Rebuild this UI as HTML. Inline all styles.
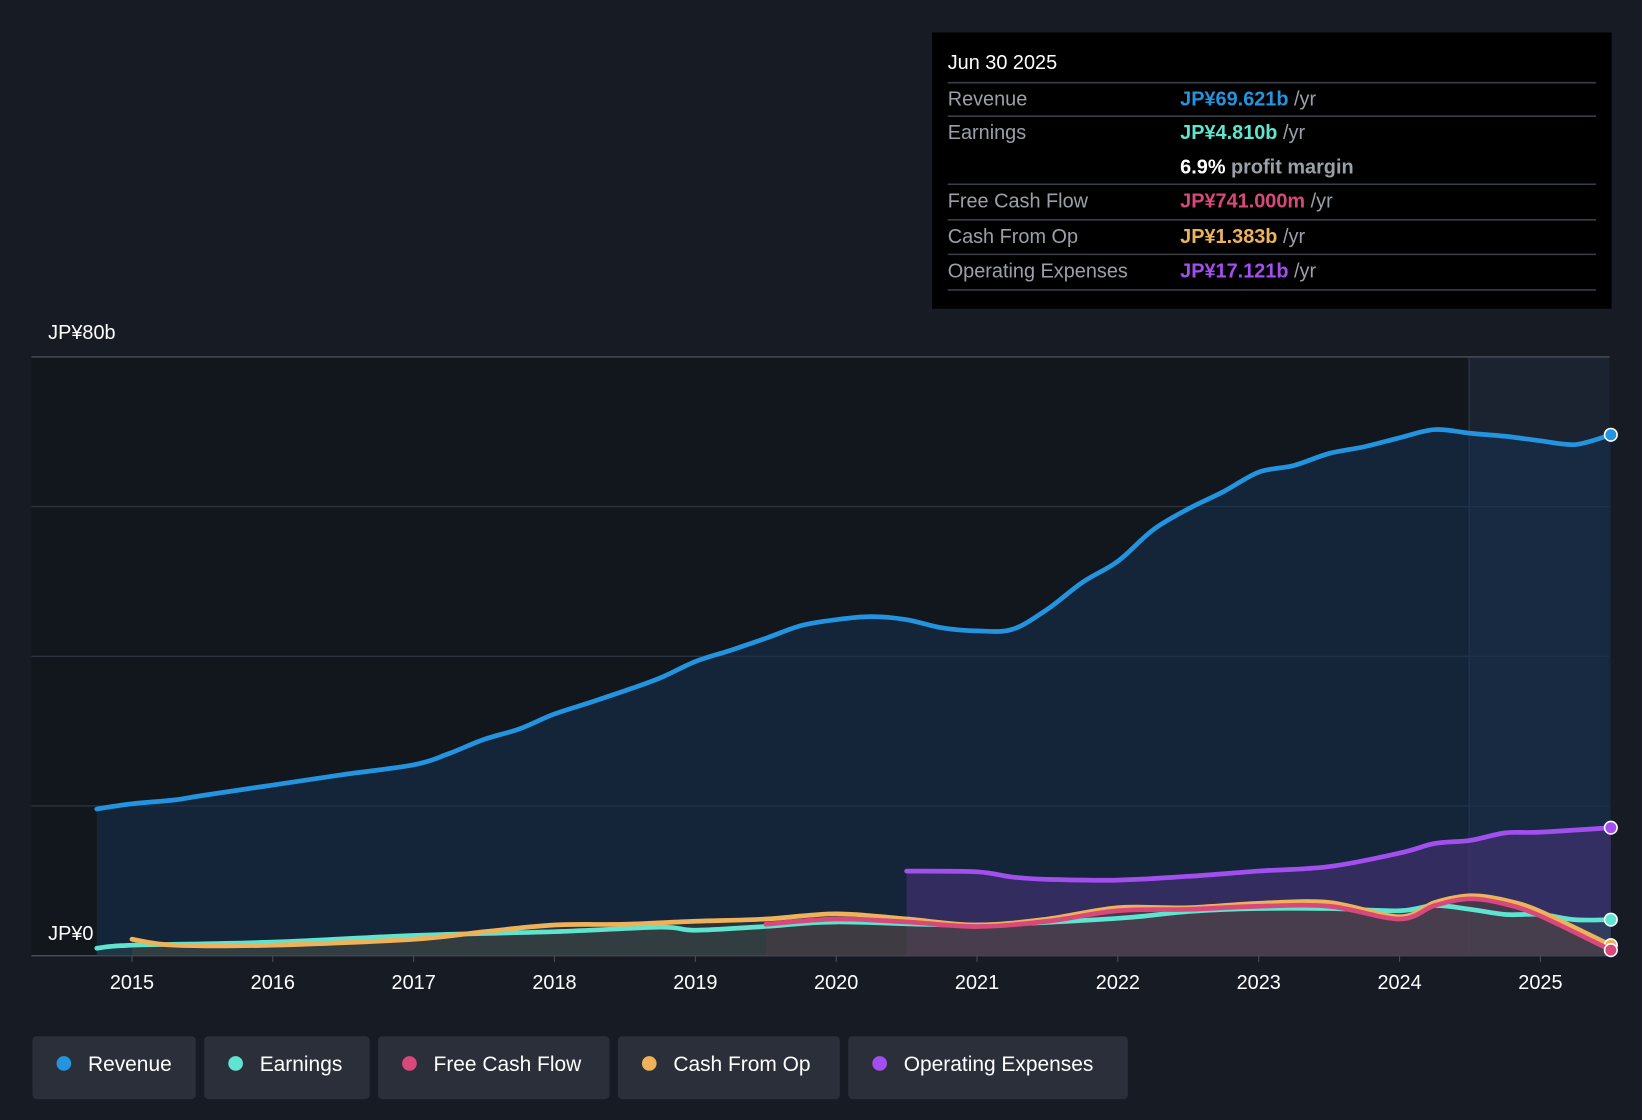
<!DOCTYPE html>
<html><head><meta charset="utf-8"><style>
html,body{margin:0;padding:0;background:#161b24;}
svg{display:block;font-family:"Liberation Sans",sans-serif;}
</style></head><body>
<svg id="chart" width="1642" height="1120" viewBox="0 0 1568 1070" preserveAspectRatio="none">
<rect x="0" y="0" width="1568" height="1070" fill="#161b24"/>
<rect x="30" y="341" width="1373" height="572" fill="#12161d"/>
<rect x="1403" y="341" width="134" height="572" fill="#1b2230"/>
<line x1="1403" y1="341" x2="1403" y2="913" stroke="#2a3342" stroke-width="1.5"/>
<g id="grid"></g>
<g id="areas"></g>
<g id="lines"></g>
<g id="xticks"></g>
<text x="46" y="324" fill="#ffffff" font-size="19">JP¥80b</text>
<text x="46" y="898" fill="#ffffff" font-size="19">JP¥0</text>

<g>
<rect x="890" y="31" width="649" height="264" fill="#000000"/>
<text x="905" y="66" fill="#fff" font-size="19">Jun 30 2025</text>
<g stroke="#3a3f47" stroke-width="1.5">
<line x1="905" y1="79" x2="1524" y2="79"/><line x1="905" y1="111" x2="1524" y2="111"/>
<line x1="905" y1="176" x2="1524" y2="176"/><line x1="905" y1="210" x2="1524" y2="210"/>
<line x1="905" y1="243" x2="1524" y2="243"/><line x1="905" y1="277" x2="1524" y2="277"/></g>
<g font-size="19" fill="#9aa0a8">
<text x="905" y="101">Revenue</text><text x="905" y="133">Earnings</text>
<text x="905" y="198">Free Cash Flow</text><text x="905" y="232">Cash From Op</text>
<text x="905" y="265">Operating Expenses</text></g>
<g font-size="19" font-weight="bold">
<text x="1127" y="101"><tspan fill="#2394e0">JP¥69.621b</tspan><tspan fill="#9aa0a8" font-weight="normal"> /yr</tspan></text>
<text x="1127" y="133"><tspan fill="#5ee4cf">JP¥4.810b</tspan><tspan fill="#9aa0a8" font-weight="normal"> /yr</tspan></text>
<text x="1127" y="166"><tspan fill="#fff">6.9%</tspan><tspan fill="#9aa0a8"> profit margin</tspan></text>
<text x="1127" y="198"><tspan fill="#d9487a">JP¥741.000m</tspan><tspan fill="#9aa0a8" font-weight="normal"> /yr</tspan></text>
<text x="1127" y="232"><tspan fill="#eeb25a">JP¥1.383b</tspan><tspan fill="#9aa0a8" font-weight="normal"> /yr</tspan></text>
<text x="1127" y="265"><tspan fill="#a34ff0">JP¥17.121b</tspan><tspan fill="#9aa0a8" font-weight="normal"> /yr</tspan></text>
</g></g>

<g font-size="20" fill="#fff">
<g><rect x="31" y="990" width="156" height="60" rx="4" fill="#2a2f39"/><circle cx="61" cy="1016" r="7" fill="#2394e0"/><text x="84" y="1023" fill="#fff">Revenue</text></g>
<g><rect x="195" y="990" width="158" height="60" rx="4" fill="#2a2f39"/><circle cx="225" cy="1016" r="7" fill="#5ee4cf"/><text x="248" y="1023" fill="#fff">Earnings</text></g>
<g><rect x="361" y="990" width="221" height="60" rx="4" fill="#2a2f39"/><circle cx="391" cy="1016" r="7" fill="#d9487a"/><text x="414" y="1023" fill="#fff">Free Cash Flow</text></g>
<g><rect x="590" y="990" width="212" height="60" rx="4" fill="#2a2f39"/><circle cx="620" cy="1016" r="7" fill="#eeb25a"/><text x="643" y="1023" fill="#fff">Cash From Op</text></g>
<g><rect x="810" y="990" width="267" height="60" rx="4" fill="#2a2f39"/><circle cx="840" cy="1016" r="7" fill="#a34ff0"/><text x="863" y="1023" fill="#fff">Operating Expenses</text></g>
</g>
</svg>
<script>
const revT=[2014.75,2015,2015.3,2015.5,2016,2016.5,2017,2017.25,2017.5,2017.75,2018,2018.25,2018.5,2018.75,2019,2019.25,2019.5,2019.75,2020,2020.25,2020.5,2020.75,2021,2021.25,2021.5,2021.75,2022,2022.25,2022.5,2022.75,2023,2023.25,2023.5,2023.75,2024,2024.25,2024.5,2024.75,2025,2025.25,2025.5];
const revV=[19.6,20.3,20.8,21.4,22.8,24.2,25.5,27.0,28.9,30.3,32.3,33.8,35.4,37.1,39.3,40.8,42.4,44.1,44.9,45.3,44.9,43.8,43.4,43.6,46.3,49.9,52.7,56.9,59.7,62.0,64.6,65.5,67.1,68.0,69.2,70.3,69.8,69.4,68.8,68.3,69.6];
const opxT=[2020.5,2021,2021.25,2021.5,2022,2022.5,2023,2023.5,2024,2024.25,2024.5,2024.75,2025,2025.5];
const opxV=[11.3,11.2,10.5,10.2,10.1,10.6,11.3,11.9,13.7,15.0,15.4,16.4,16.5,17.1];
const earT=[2014.75,2015,2016,2017,2018,2018.75,2019,2019.5,2020,2021,2022,2022.5,2023,2023.5,2024,2024.25,2024.5,2024.75,2025,2025.25,2025.5];
const earV=[1.0,1.4,1.8,2.7,3.2,3.8,3.4,3.9,4.5,4.1,5.0,5.9,6.3,6.3,6.0,6.7,6.2,5.5,5.5,4.8,4.81];
const cfoT=[2015,2015.3,2016,2017,2017.5,2018,2018.5,2019,2019.5,2020,2020.5,2021,2021.5,2022,2022.5,2023,2023.5,2024,2024.25,2024.5,2024.75,2025,2025.5];
const cfoV=[2.2,1.4,1.4,2.2,3.2,4.1,4.2,4.6,4.9,5.6,4.9,4.1,4.9,6.4,6.4,7.0,7.1,5.2,7.1,8.0,7.4,5.9,1.4];
const fcfT=[2019.5,2020,2020.5,2021,2021.5,2022,2022.5,2023,2023.5,2024,2024.25,2024.5,2024.75,2025,2025.5];
const fcfV=[4.2,4.9,4.5,3.9,4.6,6.0,6.2,6.6,6.6,4.9,6.7,7.6,6.9,5.3,0.74];
const xTicks=[2015,2016,2017,2018,2019,2020,2021,2022,2023,2024,2025];
const yTicks=[0,20,40,60,80];
const NS="http://www.w3.org/2000/svg";
const X=t=>126+(t-2015)*134.5;
const Y=v=>913-v/80*572;
function mk(tag,attrs,parent){const e=document.createElementNS(NS,tag);for(const k in attrs)e.setAttribute(k,attrs[k]);parent.appendChild(e);return e;}
const grid=document.getElementById('grid');
yTicks.forEach(v=>{const l=mk('line',{x1:30,x2:1537,y1:Y(v),y2:Y(v),stroke:v==0||v==80?'#4a515c':'#2c333e','stroke-width':1.3},grid);

});
const xt=document.getElementById('xticks');
xTicks.forEach(t=>{const tx=mk('text',{x:X(t),y:945,fill:'#fff','font-size':19,'text-anchor':'middle'},xt);tx.textContent=t;


const tk=mk('line',{x1:X(t),x2:X(t),y1:913,y2:919,stroke:'#4a515c'},xt);

});
const areas=document.getElementById('areas'),lines=document.getElementById('lines');
function smooth(P){let d='M'+P[0][0].toFixed(1)+','+P[0][1].toFixed(1);
 for(let i=0;i<P.length-1;i++){const p0=P[i-1]||P[i],p1=P[i],p2=P[i+1],p3=P[i+2]||p2;
  const c1=[p1[0]+(p2[0]-p0[0])/6,p1[1]+(p2[1]-p0[1])/6],c2=[p2[0]-(p3[0]-p1[0])/6,p2[1]-(p3[1]-p1[1])/6];
  d+=' C'+c1.map(n=>n.toFixed(1)).join(',')+' '+c2.map(n=>n.toFixed(1)).join(',')+' '+p2[0].toFixed(1)+','+p2[1].toFixed(1);}
 return d;}
function series(name,T,V,color,fill,op){
 const P=T.map((t,i)=>[X(t),Y(V[i])]);
 const d=smooth(P);
 const a=mk('path',{d:d+' L'+X(T[T.length-1])+','+Y(0)+' L'+X(T[0])+','+Y(0)+'Z',fill:fill,opacity:op},areas);
 
 
 const l=mk('path',{d:d,fill:'none',stroke:color,'stroke-width':4.5,'stroke-linejoin':'round','stroke-linecap':'round'},lines);
 
 
 const c=mk('circle',{cx:X(T[T.length-1]),cy:Y(V[V.length-1]),r:6,fill:color,stroke:'#fff','stroke-width':1.5},lines);
 
 
}
series('revenue',revT,revV,'#2394e0','#16304d',0.6);
series('operating-expenses',opxT,opxV,'#a34ff0','#4a3380',0.55);
series('earnings',earT,earV,'#5ee4cf','#2f5a58',0.35);
series('cash-from-op',cfoT,cfoV,'#eeb25a','#5a4a3a',0.35);
series('free-cash-flow',fcfT,fcfV,'#d9487a','#5a3a48',0.35);
</script>
</body></html>
